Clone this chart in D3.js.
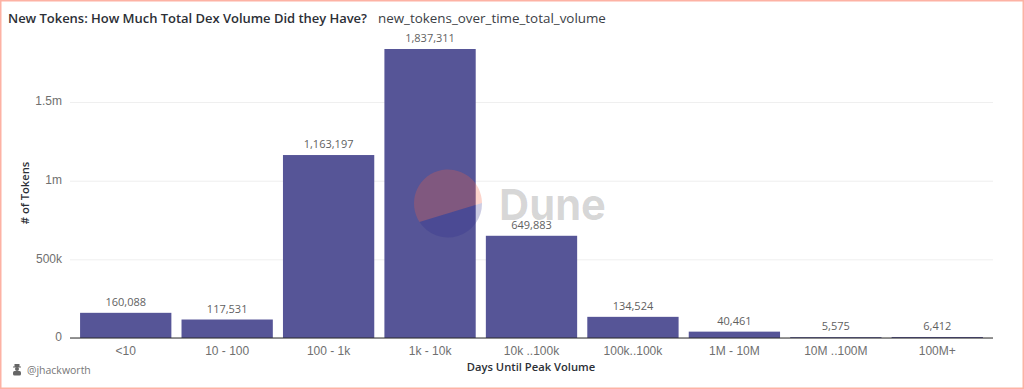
<!DOCTYPE html>
<html>
<head>
<meta charset="utf-8">
<script src="https://cdn.jsdelivr.net/npm/d3@7"></script>
<style>
   html, body { margin: 0; padding: 0; background: #fff; }
   svg { display: block; font-family: "Open Sans", "Noto Sans", sans-serif; }
</style>
</head>
<body>
<svg id="chart"></svg>
<script>
const categories = ["<10", "10 - 100", "100 - 1k", "1k - 10k", "10k ..100k", "100k..100k", "1M - 10M", "10M ..100M", "100M+"];
const tokenCounts = [160088, 117531, 1163197, 1837311, 649883, 134524, 40461, 5575, 6412];
const yTicks = [0, 500000, 1000000, 1500000];
const yTickLabels = ["0", "500k", "1m", "1.5m"];

const width = 1024;
const height = 389;
const margin = {top: 49, right: 31, bottom: 51, left: 70};
const yMax = 1837311;

const svg = d3.select("#chart")
   .attr("width", width)
   .attr("height", height)
   .attr("viewBox", [0, 0, width, height]);

// Border round the whole card
svg.append("rect")
   .attr("x", 0.75).attr("y", 0.75)
   .attr("width", width - 1.5).attr("height", height - 1.5)
   .attr("fill", "#fff")
   .attr("stroke", "#fdb2a4")
   .attr("stroke-width", 1.5);

// Title
const title = svg.append("text")
   .attr("x", 8)
   .attr("y", 23)
   .attr("font-size", 13)
   .attr("fill", "#2c2f36");
title.append("tspan").attr("font-weight", 600).attr("textLength", 359).text("New Tokens: How Much Total Dex Volume Did they Have?");
title.append("tspan").attr("x", 378).attr("font-size", 13.4).attr("fill", "#3b3e45").text("new_tokens_over_time_total_volume");

const x = d3.scaleBand()
   .domain(categories)
   .range([75, 988])
   .paddingInner(0.1)
   .paddingOuter(0.05);

const y = d3.scaleLinear()
   .domain([0, yMax])
   .range([height - margin.bottom, margin.top]);

// Gridlines and left axis
const leftAxis = d3.axisLeft(y)
   .tickValues(yTicks)
   .tickFormat((d, i) => yTickLabels[i])
   .tickSize(-(width - margin.left - margin.right))
   .tickPadding(8);

const gy = svg.append("g")
   .attr("transform", "translate(" + margin.left + ",0)")
   .call(leftAxis);
gy.select(".domain").remove();
gy.selectAll("line").attr("stroke", "#efefef");
gy.selectAll("text").attr("font-size", 12).attr("fill", "#6f6f6f").attr("y", -1);

// Bars
svg.append("g").selectAll("rect")
   .data(tokenCounts)
   .join("rect")
      .attr("x", (d, i) => x(categories[i]))
      .attr("y", d => y(d))
      .attr("width", x.bandwidth())
      .attr("height", d => y(0) - y(d))
      .attr("fill", "#565597");

// Value labels
svg.append("g").selectAll("text")
   .data(tokenCounts)
   .join("text")
      .attr("x", (d, i) => x(categories[i]) + x.bandwidth() / 2)
      .attr("y", d => y(d) - 7)
      .attr("text-anchor", "middle")
      .attr("font-size", 11)
      .attr("fill", "#5f5f5f")
      .text(d => d3.format(",")(d));

// Bottom axis
const bottomAxis = d3.axisBottom(x).tickSize(0).tickPadding(8);
const gx = svg.append("g")
   .attr("transform", "translate(0," + y(0) + ")")
   .call(bottomAxis);
gx.select(".domain").remove();
gx.selectAll("text").attr("font-size", 12).attr("fill", "#6f6f6f");
svg.append("line")
   .attr("x1", margin.left).attr("x2", width - margin.right)
   .attr("y1", y(0)).attr("y2", y(0))
   .attr("stroke", "#2b2b2b").attr("stroke-width", 1);

// Axis titles
svg.append("text")
   .attr("x", 531)
   .attr("y", 371)
   .attr("text-anchor", "middle")
   .attr("font-size", 11.2)
   .attr("font-weight", 600)
   .attr("fill", "#2c2f36")
   .text("Days Until Peak Volume");
svg.append("text")
   .attr("transform", "rotate(-90,29,193)")
   .attr("x", 29)
   .attr("y", 193)
   .attr("text-anchor", "middle")
   .attr("font-size", 11.2)
   .attr("font-weight", 600)
   .attr("fill", "#2c2f36")
   .text("# of Tokens");

// Dune watermark, sits on top of the bars
const logo = svg.append("g").attr("transform", "translate(448,203)");
logo.append("path")
   .attr("d", "M-28.5,19 A34,34 0 1 1 34,0 Z")
   .attr("fill", "#f4603e").attr("fill-opacity", 0.27);
logo.append("path")
   .attr("d", "M-28.5,19 A34,34 0 0 0 34,0 Z")
   .attr("fill", "#2a2a8c").attr("fill-opacity", 0.24);
svg.append("text")
   .attr("x", 499)
   .attr("y", 220)
   .attr("font-size", 43)
   .attr("font-weight", 700)
   .attr("font-family", "Inter, 'Open Sans', sans-serif")
   .attr("textLength", 107)
   .attr("lengthAdjust", "spacingAndGlyphs")
   .attr("fill", "#000")
   .attr("fill-opacity", 0.17)
   .text("Dune");

// Author
const avatar = svg.append("g").attr("transform", "translate(17,370)").attr("fill", "#666");
avatar.append("rect").attr("x", -2.5).attr("y", -6).attr("width", 5).attr("height", 3);
avatar.append("rect").attr("x", -4).attr("y", -3.5).attr("width", 8).attr("height", 1);
avatar.append("circle").attr("cx", 0).attr("cy", -1).attr("r", 2);
avatar.append("rect").attr("x", -4).attr("y", 1).attr("width", 8).attr("height", 4.5).attr("rx", 1.5);
svg.append("text")
   .attr("x", 27)
   .attr("y", 374)
   .attr("font-size", 10.5)
   .attr("fill", "#777")
   .text("@jhackworth");
</script>
</body>
</html>
